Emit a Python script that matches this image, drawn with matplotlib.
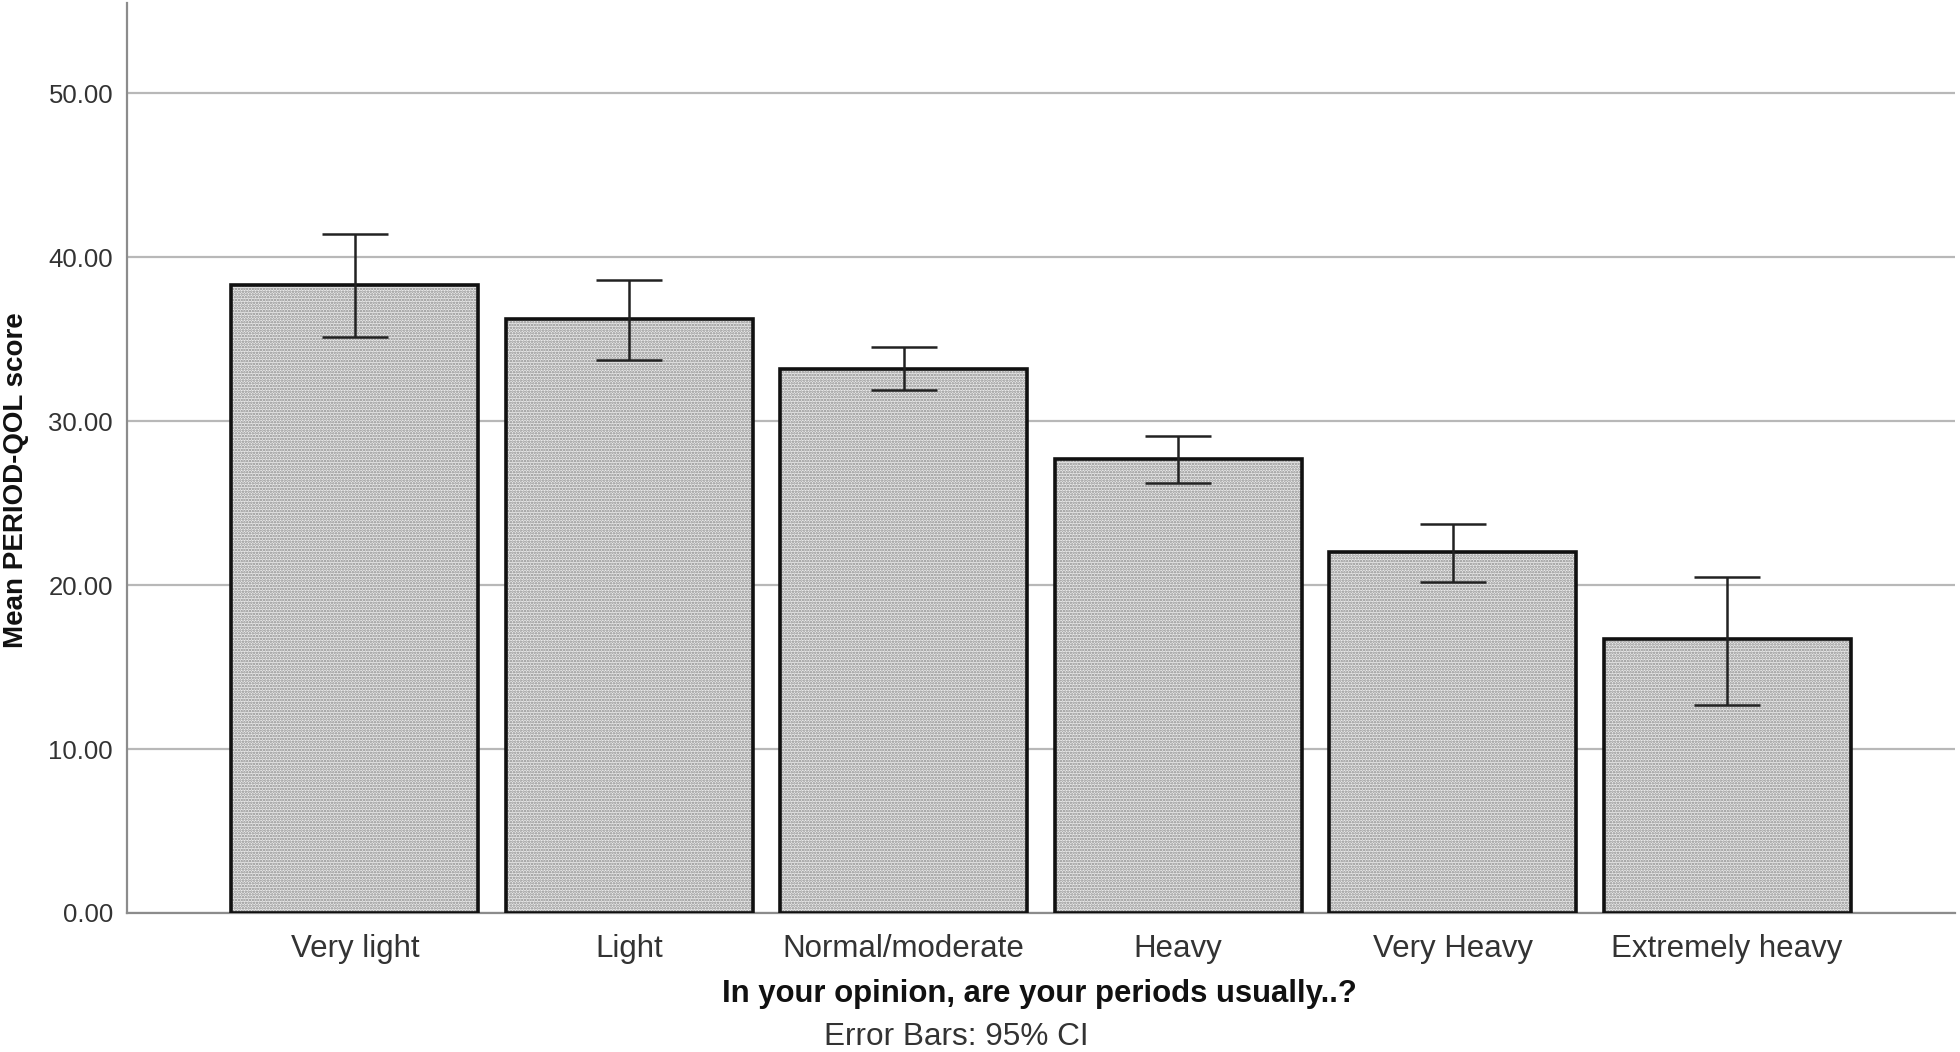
import matplotlib
matplotlib.use("Agg")
import matplotlib.pyplot as plt
import numpy as np

categories = ["Very light", "Light", "Normal/moderate", "Heavy", "Very Heavy", "Extremely heavy"]
means = [38.3, 36.2, 33.2, 27.7, 22.0, 16.7]
ci_low = [35.1, 33.7, 31.9, 26.2, 20.2, 12.7]
ci_high = [41.4, 38.6, 34.5, 29.1, 23.7, 20.5]
yticks = [0, 10, 20, 30, 40, 50]
ytick_labels = ["0.00", "10.00", "20.00", "30.00", "40.00", "50.00"]

plt.rcParams['font.family'] = ['Liberation Sans', 'DejaVu Sans']
plt.rcParams['hatch.linewidth'] = 1.2

fig = plt.figure(figsize=(19.6, 10.52), dpi=100)
ax = fig.add_axes([127/1960, 1 - 913/1052, (1955-127)/1960, (913-3)/1052])

x = np.arange(len(categories))
w = 0.90
# textured fill
ax.bar(x, means, width=w, color='#ebebeb', edgecolor='#8a8a8a', hatch='......', linewidth=0, zorder=2)
# outline
ax.bar(x, means, width=w, fill=False, edgecolor='#111111', linewidth=2.6, zorder=3)

# error bars
lo = np.array(ci_low); hi = np.array(ci_high)
ax.vlines(x, lo, hi, color='#222222', linewidth=1.8, zorder=4)
ax.hlines(lo, x - 0.12, x + 0.12, color='#222222', linewidth=1.8, zorder=4)
ax.hlines(hi, x - 0.12, x + 0.12, color='#222222', linewidth=1.8, zorder=4)

ax.set_xlim(-0.83, len(categories) - 1 + 0.83)
ax.set_ylim(0, 55.5)
ax.set_yticks(yticks)
ax.set_yticklabels(ytick_labels)
ax.set_xticks(x)
ax.set_xticklabels(categories)
ax.tick_params(axis='y', length=0, pad=10, labelsize=18.5, labelcolor='#333333')
ax.tick_params(axis='x', length=0, pad=15, labelsize=22.5, labelcolor='#333333')
ax.yaxis.grid(True, color='#b8b8b8', linewidth=1.6, zorder=1)
ax.set_axisbelow(True)
for s in ['top', 'right']:
    ax.spines[s].set_visible(False)
for s in ['left', 'bottom']:
    ax.spines[s].set_color('#8c8c8c')
    ax.spines[s].set_linewidth(1.6)

fig.text(1039/1960, 1 - 994/1052, "In your opinion, are your periods usually..?", ha='center', va='center',
         fontsize=22.4, fontweight='bold', color='#111111')
fig.text(956/1960, 1 - 1037/1052, "Error Bars: 95% CI", ha='center', va='center',
         fontsize=22.7, color='#333333')
fig.text(16/1960, 1 - 480/1052, "Mean PERIOD-QOL score", ha='center', va='center', rotation=90,
         fontsize=20, fontweight='bold', color='#111111')

fig.savefig("out.png", dpi=100, facecolor='white')
